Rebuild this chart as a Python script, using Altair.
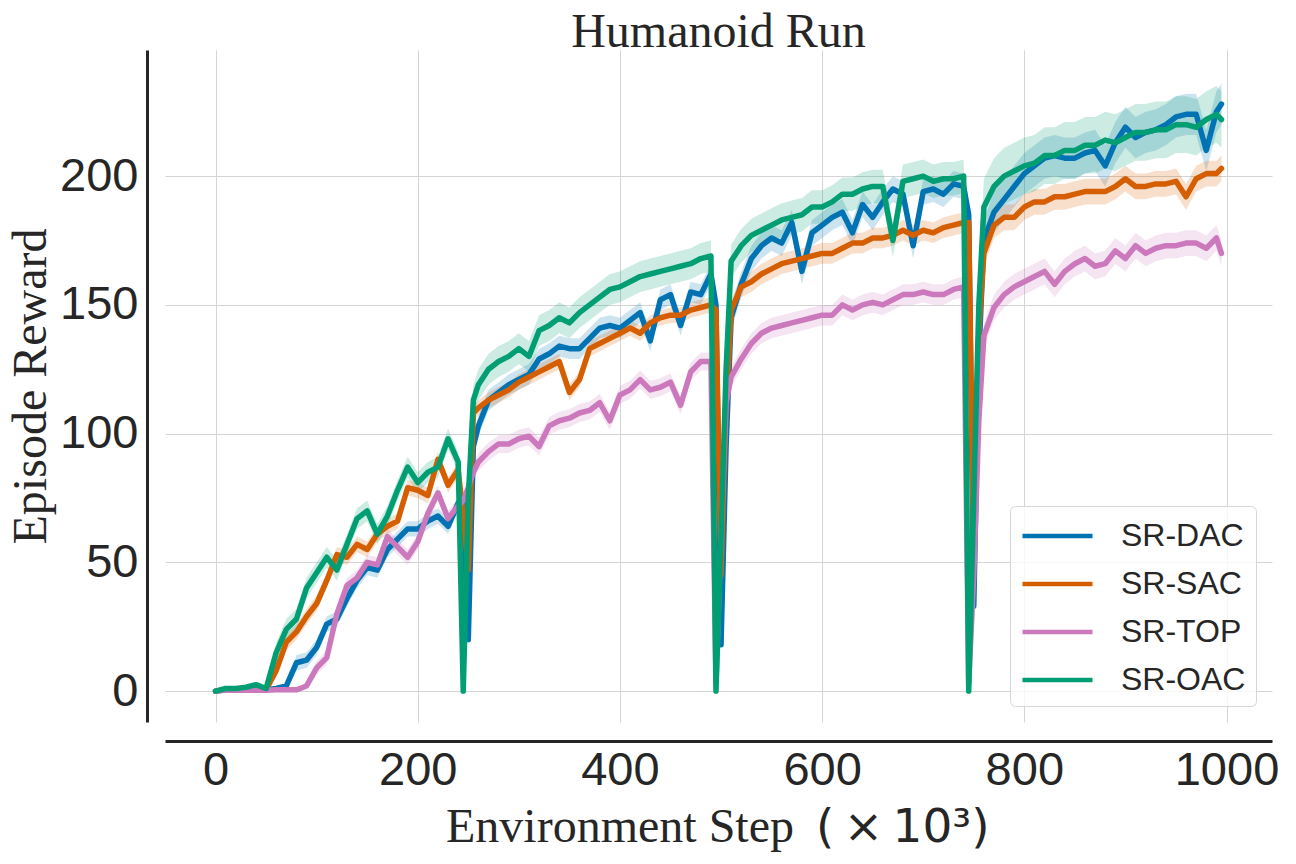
import altair as alt
import pandas as pd

# ---- sample positions (x10^3 environment steps), four training segments ----
seg_x = [
    list(range(0, 250, 10)) + [245],
    [250, 255] + list(range(260, 500, 10)) + [495],
    [500, 505] + list(range(510, 750, 10)) + [745],
    [750, 755] + list(range(760, 1000, 10)) + [995],
]

series_names = ["SR-DAC", "SR-SAC", "SR-TOP", "SR-OAC"]
series_colors = ["#0173B2", "#D55E00", "#CC78BC", "#029E73"]

# ---- mean episode reward per series, per segment ----
dac = [
    [0, 0.5, 0.5, 0.5, 0.5, 0.5, 1, 2, 11, 12, 17, 26, 28, 36, 43, 48, 47, 55, 59, 63, 63, 66, 68, 64, 73, 74],
    [20, 95, 103, 113, 116, 119, 121, 123, 129, 131, 134, 133, 133, 137, 141, 142, 141, 144, 147, 136, 152, 154, 142, 155, 154, 162, 150],
    [18, 95, 145, 158, 168, 173, 176, 174, 182, 163, 178, 181, 184, 186, 178, 189, 184, 190, 195, 193, 173, 194, 195, 193, 197, 196, 185],
    [33, 130, 175, 186, 191, 196, 201, 204, 207, 208, 207, 207, 209, 210, 204, 213, 219, 215, 217, 218, 220, 223, 224, 224, 210, 225, 228],
]
sac = [
    [0, 0.5, 0.5, 0.5, 0.5, 0.5, 8, 19, 23, 29, 34, 43, 53, 52, 57, 55, 61, 64, 66, 79, 78, 76, 90, 80, 86, 68],
    [47, 108, 110, 113, 115, 117, 120, 122, 124, 126, 128, 116, 121, 133, 135, 137, 139, 141, 139, 143, 145, 146, 146, 148, 149, 150, 148],
    [45, 110, 148, 157, 159, 162, 164, 166, 167, 168, 169, 170, 170, 172, 174, 174, 176, 176, 177, 179, 177, 179, 178, 180, 181, 182, 182],
    [50, 140, 170, 181, 184, 184, 188, 190, 190, 192, 192, 193, 194, 194, 194, 196, 199, 196, 196, 197, 197, 198, 192, 199, 201, 201, 203],
]
top = [
    [0, 0.3, 0.3, 0.3, 0.3, 0.3, 0.5, 0.5, 0.5, 2, 9, 13, 30, 41, 44, 50, 49, 60, 56, 52, 58, 69, 77, 67, 72, 74],
    [79, 85, 89, 93, 96, 96, 98, 99, 95, 103, 105, 106, 108, 109, 112, 105, 115, 117, 121, 117, 118, 120, 111, 124, 128, 128, 3],
    [60, 112, 122, 129, 135, 139, 141, 142, 143, 144, 145, 146, 146, 150, 148, 150, 151, 150, 152, 154, 154, 155, 154, 154, 156, 157, 3],
    [45, 105, 138, 149, 154, 157, 159, 161, 163, 158, 163, 166, 168, 165, 166, 171, 168, 173, 170, 172, 173, 173, 174, 174, 172, 176, 170],
]
oac = [
    [0, 1, 1, 1.5, 2.5, 1, 15, 24, 28, 40, 46, 52, 47, 57, 67, 70, 61, 68, 78, 87, 81, 85, 87, 98, 89, 0],
    [75, 113, 119, 125, 128, 130, 133, 130, 140, 142, 145, 143, 147, 150, 153, 156, 157, 159, 161, 162, 163, 164, 165, 166, 168, 169, 0],
    [60, 125, 167, 173, 177, 179, 181, 183, 184, 185, 188, 188, 190, 193, 193, 195, 196, 196, 175, 198, 199, 200, 198, 199, 199, 200, 0],
    [75, 150, 188, 196, 200, 202, 204, 205, 208, 208, 210, 210, 212, 212, 214, 213, 215, 217, 217, 218, 218, 220, 220, 219, 222, 224, 222],
]

# ---- approximate half-width of the shaded band, per series and segment ----
band_dac = [3, 4, 5, 8]
band_sac = [3, 3, 4, 5]
band_top = [3, 3.5, 4, 5]
band_oac = [4, 6, 6.5, 11]

rows = []
for name, vals, bands in zip(series_names, [dac, sac, top, oac], [band_dac, band_sac, band_top, band_oac]):
    for xs, ys, hw in zip(seg_x, vals, bands):
        for xv, yv in zip(xs, ys):
            h = min(hw, 0.25 * yv + 0.3)
            rows.append({"step": xv, "reward": yv, "lo": yv - h, "hi": yv + h, "series": name})
df = pd.DataFrame(rows)

chart_title = "Humanoid Run"
x_title_main = "Environment Step"
x_title_unit = "(\u2009×\u200910³)"
y_title = "Episode Reward"

FONT_SERIF = "Liberation Serif"
FONT_SANS = "Liberation Sans"
FONT_MATH = "DejaVu Sans"
INK = "#262626"
W, H = 1107, 672

x_scale = alt.Scale(domain=[-50, 1045], nice=False, zero=False)
y_scale = alt.Scale(domain=[-12, 249], nice=False, zero=False)
color_scale = alt.Scale(domain=series_names, range=series_colors)

x_enc = alt.X(
    "step:Q", scale=x_scale,
    axis=alt.Axis(
        values=[0, 200, 400, 600, 800, 1000], format="d", title="",
        offset=19, labelPadding=6,
    ),
)
y_enc = alt.Y(
    "reward:Q", scale=y_scale,
    axis=alt.Axis(
        values=[0, 50, 100, 150, 200], format="d", title=y_title,
        offset=18, labelPadding=9, titleBaseline="alphabetic", titleAngle=-90,
        titleX=-102, titleY=336,
    ),
)

legend = alt.Legend(
    title=None, orient="none", legendX=845, legendY=456,
    symbolType="M-1,0H3", symbolSize=1225, symbolStrokeWidth=4.5, symbolOpacity=1,
    labelFont=FONT_SANS, labelFontSize=32, labelColor=INK, labelOffset=61,
    padding=10, rowPadding=12, strokeColor="#d6d6d6", cornerRadius=5,
    fillColor="rgba(255,255,255,0.8)",
)

band = alt.Chart(df).mark_area(opacity=0.2).encode(
    x=x_enc,
    y=alt.Y("lo:Q", scale=y_scale),
    y2="hi:Q",
    color=alt.Color("series:N", scale=color_scale, sort=series_names, legend=legend),
)

line = alt.Chart(df).mark_line(strokeWidth=5.5, strokeJoin="round", strokeCap="round").encode(
    x=x_enc,
    y=y_enc,
    color=alt.Color("series:N", scale=color_scale, sort=series_names, legend=legend),
)

title_text = alt.Chart(pd.DataFrame({"t": [chart_title]})).mark_text(
    font=FONT_SERIF, fontSize=48, color=INK, align="center", baseline="alphabetic",
).encode(text="t:N", x=alt.value(W / 2), y=alt.value(-3))

xt_main = alt.Chart(pd.DataFrame({"t": [x_title_main]})).mark_text(
    font=FONT_SERIF, fontSize=48, color=INK, align="right", baseline="alphabetic",
).encode(text="t:N", x=alt.value(629), y=alt.value(792))

xt_unit = alt.Chart(pd.DataFrame({"t": [x_title_unit]})).mark_text(
    font=FONT_MATH, fontSize=47, color=INK, align="left", baseline="alphabetic",
).encode(text="t:N", x=alt.value(651), y=alt.value(792))

chart = (
    alt.layer(band, line, title_text, xt_main, xt_unit)
    .properties(
        width=W, height=H,
        autosize=alt.AutoSizeParams(type="none"),
        padding={"left": 157, "top": 42, "right": 16, "bottom": 134},
    )
    .configure_view(stroke="transparent")
    .configure_axis(
        grid=True, gridColor="#d4d4d4", gridWidth=1,
        domainColor=INK, domainWidth=3, ticks=False, tickSize=0,
        labelFont=FONT_SANS, labelFontSize=47, labelColor=INK,
        titleFont=FONT_SERIF, titleFontSize=48, titleFontWeight="normal", titleColor=INK,
    )
)

chart.save("out.html", embed_options={"renderer": "svg", "actions": False})
